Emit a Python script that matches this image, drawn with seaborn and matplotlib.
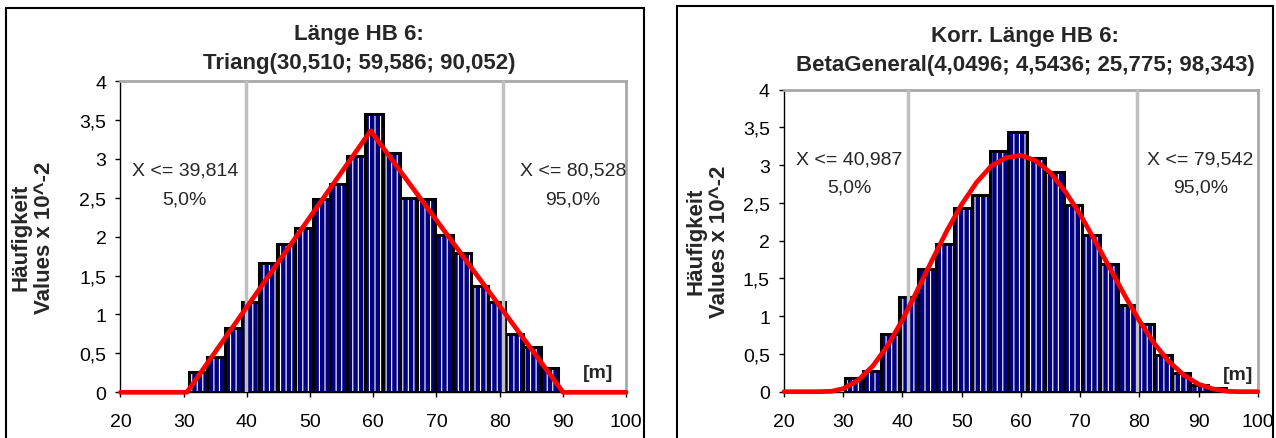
import numpy as np
import pandas as pd
import seaborn as sns
import matplotlib.pyplot as plt
from matplotlib.patches import Rectangle
from matplotlib.transforms import Bbox, TransformedBbox

# ---- data ----
# left chart: Triang(30,510; 59,586; 90,052)
tri_title = ["Länge HB 6:", "Triang(30,510; 59,586; 90,052)"]
tri_edges = [30.9, 33.7, 36.5, 39.3, 42.0, 44.8, 47.6, 50.4, 53.1, 55.9, 58.7,
             61.5, 64.3, 67.0, 69.8, 72.6, 75.4, 78.2, 80.9, 83.7, 86.5, 89.3]
tri_heights = [0.26, 0.45, 0.82, 1.16, 1.66, 1.90, 2.11, 2.49, 2.68, 3.03, 3.57,
               3.08, 2.50, 2.49, 2.02, 1.79, 1.36, 1.16, 0.75, 0.58, 0.31]
tri_curve_x = [20, 30.51, 59.586, 90.052, 100]
tri_curve_y = [0, 0, 3.36, 0, 0]
tri_marks = [39.814, 80.528]
tri_mark_text = [("X <= 39,814", "5,0%"), ("X <= 80,528", "95,0%")]

# right chart: BetaGeneral(4,0496; 4,5436; 25,775; 98,343)
beta_title = ["Korr. Länge HB 6:", "BetaGeneral(4,0496; 4,5436; 25,775; 98,343)"]
beta_edges = [30.3, 33.4, 36.4, 39.5, 42.6, 45.6, 48.7, 51.8, 54.8, 57.9, 61.0,
              64.1, 67.2, 70.3, 73.4, 76.4, 79.4, 82.4, 85.5, 88.6, 91.6, 94.7]
beta_heights = [0.18, 0.27, 0.77, 1.26, 1.62, 1.95, 2.43, 2.61, 3.19, 3.44, 3.10,
                2.91, 2.47, 2.07, 1.69, 1.15, 0.89, 0.49, 0.25, 0.09, 0.05]
beta_curve_x = [20, 25.8, 28, 30, 32.5, 35, 37.5, 40, 42.5, 45, 47.5, 50, 52.5,
                55, 57.5, 60, 62.5, 65, 67.5, 70, 72.5, 75, 77.5, 80, 82.5, 85,
                87.5, 90, 92.5, 95, 97, 100]
beta_curve_y = [0, 0, 0.005, 0.04, 0.15, 0.34, 0.61, 0.95, 1.34, 1.74, 2.13,
                2.48, 2.77, 2.99, 3.10, 3.13, 3.06, 2.90, 2.65, 2.35, 2.00, 1.64,
                1.28, 0.94, 0.64, 0.40, 0.22, 0.10, 0.035, 0.005, 0, 0]
beta_marks = [40.987, 79.542]
beta_mark_text = [("X <= 40,987", "5,0%"), ("X <= 79,542", "95,0%")]

ylabel = "Häufigkeit\nValues x 10^-2"
xticks = [20, 30, 40, 50, 60, 70, 80, 90, 100]
yticks = [0, 0.5, 1, 1.5, 2, 2.5, 3, 3.5, 4]
ytick_labels = ["0", "0,5", "1", "1,5", "2", "2,5", "3", "3,5", "4"]

sns.set_style("white")
plt.rcParams['font.family'] = ['Liberation Sans', 'DejaVu Sans']
plt.rcParams['hatch.linewidth'] = 0.8


def draw_panel(ax, edges, heights, cx, cy, marks, mark_text, title, title_pos,
               txt_pos, m_pos, label_x):
    e = np.array(edges)
    df = pd.DataFrame({"mid": (e[:-1] + e[1:]) / 2, "h": heights})
    # navy bars with white vertical stripes
    sns.histplot(data=df, x="mid", weights="h", bins=list(edges), stat="count",
                 color="#000080", edgecolor="white", linewidth=0,
                 hatch="|||", alpha=1, ax=ax, zorder=2)
    # black outlines
    sns.histplot(data=df, x="mid", weights="h", bins=list(edges), stat="count",
                 fill=False, color="black", linewidth=2.2, alpha=1,
                 ax=ax, zorder=2.5)
    for m in marks:
        ax.axvline(m, color="#c0c0c0", lw=2.5, zorder=3)
    sns.lineplot(x=cx, y=cy, color="red", lw=3.4, ax=ax, zorder=4,
                 clip_on=False)

    ax.set_xlim(20, 100)
    ax.set_ylim(0, 4)
    ax.set_xticks(xticks)
    ax.set_yticks(yticks)
    ax.set_yticklabels(ytick_labels)
    ax.tick_params(axis="both", direction="out", length=3.6, width=1,
                   colors="black", labelsize=14, left=True, bottom=True)
    ax.tick_params(axis="x", pad=11.5)
    ax.tick_params(axis="y", pad=6.5)
    for s in ["left", "bottom"]:
        ax.spines[s].set_color("black")
        ax.spines[s].set_linewidth(1)
    for s in ["top", "right"]:
        ax.spines[s].set_color("#a8a8a8")
        ax.spines[s].set_linewidth(2)
    ax.set_xlabel("")
    ax.set_ylabel(ylabel, fontsize=16, fontweight="bold", linespacing=1.15)
    ax.yaxis.set_label_coords(label_x, 0.5)

    tx0, ty1, ty2 = title_pos
    ax.text(tx0, ty1, title[0], transform=ax.transAxes, ha="center",
            va="center", fontsize=16, fontweight="bold")
    ax.text(tx0, ty2, title[1], transform=ax.transAxes, ha="center",
            va="center", fontsize=16, fontweight="bold")
    for (tx, ty), (l1, l2) in zip(txt_pos, mark_text):
        ax.text(tx, ty, l1, ha="center", va="center", fontsize=14)
        ax.text(tx, ty - 0.37, l2, ha="center", va="center", fontsize=14)
    ax.text(m_pos[0], m_pos[1], "[m]", ha="center", va="center",
            fontsize=14, fontweight="bold")


fig = plt.figure(figsize=(12.76, 4.39), dpi=100)
fig.patches.append(Rectangle((0.0045, -0.05), 0.5002, 1.0295, fill=False,
                             ec="black", lw=1.5, transform=fig.transFigure))
fig.patches.append(Rectangle((0.5308, -0.05), 0.4669, 1.0347, fill=False,
                             ec="black", lw=1.5, transform=fig.transFigure))

ax1 = fig.add_axes([0.0944, 0.1041, 0.3962, 0.7091])
draw_panel(ax1, tri_edges, tri_heights, tri_curve_x, tri_curve_y, tri_marks,
           tri_mark_text, tri_title, (0.472, 1.151, 1.061),
           [(30.2, 2.86), (91.6, 2.86)], (95.6, 0.26), -0.13)

ax2 = fig.add_axes([0.6144, 0.1055, 0.3713, 0.6879])
draw_panel(ax2, beta_edges, beta_heights, beta_curve_x, beta_curve_y,
           beta_marks, beta_mark_text, beta_title, (0.509, 1.179, 1.085),
           [(31.0, 3.08), (90.35, 3.08)], (96.6, 0.23), -0.114)

# the left frame cuts off the "100" label, as in the original export
clip = TransformedBbox(Bbox([[0, 0], [0.5047, 1]]), fig.transFigure)
for lab in ax1.get_xticklabels():
    lab.set_clip_box(clip)
    lab.set_clip_on(True)

fig.savefig("out.png", dpi=100)
